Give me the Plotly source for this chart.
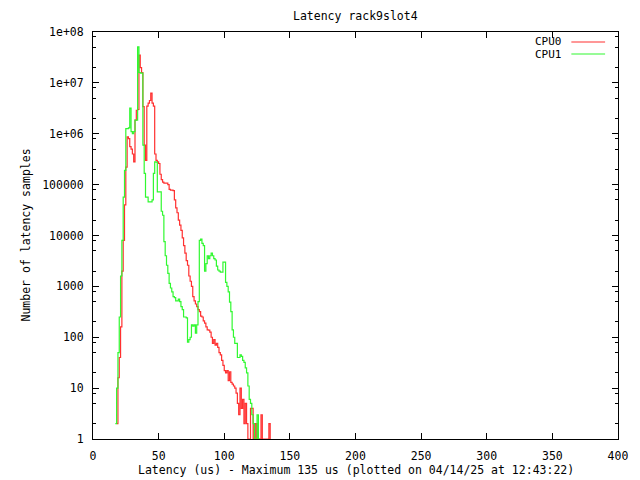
import plotly.graph_objects as go

# ---- data ----
cpu0_start = 18
cpu0_counts = [
    2, 16, 40, 160, 2000, 8000, 40000, 220000, 870000, 800000,          # 18-27
    560000, 500000, 400000, 280000, 1860000, 2900000, 3000000, 35000000, 20000000, 16000000,  # 28-37
    3400000, 600000, 300000, 3500000, 4000000, 4500000, 6300000, 4000000, 3500000, 400000,    # 38-47
    300000, 280000, 260000, 160000, 125000, 112000, 107000, 107000, 107000, 100000,           # 48-57
    81000, 78000, 78000, 76000, 50000, 35000, 28000, 20000, 16000, 12600,                     # 58-67
    9000, 6300, 4500, 3200, 2600, 1600, 1260, 1000, 630, 520,                                 # 68-77
    450, 400, 350, 320, 260, 250, 210, 190, 160, 140,                                         # 78-87
    138, 126, 100, 76, 90, 70, 76, 63, 50, 45,                                                # 88-97
    35, 28, 22, 20, 22, 14, 21, 13, 12, 11,                                                   # 98-107
    10, 8, 5, 3, 10, 4, 6, 2, 5, 2,                                                           # 108-117
    1, 1, 4, 4, 1, 2, 1, 2, 1, 1,                                                             # 118-127
    3, 1, 1, 1, 1, 1, 2, 1,                                                                   # 128-135
]
cpu1_start = 17
cpu1_counts = [
    2, 10, 50, 250, 1600, 8000, 57000, 190000, 1260000, 1260000,      # 17-26
    1300000, 3200000, 1100000, 1000000, 1100000, 1860000, 1860000, 51000000, 16000000, 15500000,  # 27-36
    15500000, 600000, 166000, 57000, 57000, 46000, 46000, 46000, 50000, 166000,                   # 37-46
    280000, 275000, 72000, 72000, 72000, 30000, 25000, 7600, 4000, 2600,                          # 47-56
    1800, 1150, 930, 780, 630, 600, 520, 520, 560, 500,                                           # 57-66
    400, 350, 250, 250, 240, 80, 90, 100, 175, 165,                                               # 67-76
    175, 120, 175, 500, 8000, 8500, 7000, 6300, 2000, 2800,                                       # 77-86
    4000, 3500, 4000, 4500, 4000, 3500, 3300, 2500, 2100, 2000,                                   # 87-96
    1900, 1900, 3000, 3000, 1200, 1000, 780, 490, 320, 140,                                       # 97-106
    100, 76, 76, 40, 40, 45, 42, 35, 32, 25,                                                      # 107-116
    20, 11, 6, 5, 3, 2, 1, 1, 3, 1, 1,                                                            # 117-127
]
cpu0_x = list(range(cpu0_start, cpu0_start + len(cpu0_counts)))
cpu1_x = list(range(cpu1_start, cpu1_start + len(cpu1_counts)))

series_names = ["CPU0", "CPU1"]
series_colors = ["#ff3030", "#30f830"]

x_ticks = [0, 50, 100, 150, 200, 250, 300, 350, 400]
y_ticks = [1, 10, 100, 1000, 10000, 100000, 1e6, 1e7, 1e8]
y_ticktext = ["1", "10", "100", "1000", "10000", "100000", "1e+06", "1e+07", "1e+08"]
y_minor = [m * 10 ** e for e in range(0, 8) for m in (2, 5, 8)]

title_text = "Latency rack9slot4"
xlabel = "Latency (us) - Maximum 135 us (plotted on 04/14/25 at 12:43:22)"
ylabel = "Number of latency samples"

FONT = "DejaVu Sans Mono"
FS = 11.5

fig = go.Figure()
for xs, ys, name, col in [(cpu0_x, cpu0_counts, series_names[0], series_colors[0]),
                          (cpu1_x, cpu1_counts, series_names[1], series_colors[1])]:
    fig.add_trace(go.Scatter(x=xs, y=ys, mode="lines", name=name,
                             line=dict(color=col, width=1.2, shape="hv"),
                             showlegend=False))

W, H = 640, 480
L, R, T, B = 93, 18, 32, 41

fig.update_layout(
    width=W, height=H,
    margin=dict(l=L, r=R, t=T, b=B, pad=0),
    paper_bgcolor="white", plot_bgcolor="white",
    font=dict(family=FONT, size=FS, color="black"),
    xaxis=dict(range=[0, 400], tickmode="array", tickvals=x_ticks,
               ticks="inside", ticklen=6, tickcolor="black", tickwidth=1,
               showline=True, linecolor="black", linewidth=1, mirror="allticks",
               showgrid=False, zeroline=False, ticklabelstandoff=6),
    yaxis=dict(type="log", range=[0, 8], tickmode="array", tickvals=y_ticks,
               ticktext=y_ticktext,
               ticks="inside", ticklen=6, tickcolor="black", tickwidth=1,
               showline=True, linecolor="black", linewidth=1, mirror="allticks",
               showgrid=False, zeroline=False, ticklabelstandoff=6,
               minor=dict(tickmode="array", tickvals=y_minor, ticks="inside",
                          ticklen=3, tickcolor="black", tickwidth=1, showgrid=False)),
)

pw, ph = W - L - R, H - T - B
annotations = [
    dict(text=title_text, xref="paper", yref="paper", x=0.5, y=1, yshift=16,
         xanchor="center", yanchor="middle", showarrow=False),
    dict(text=xlabel, xref="paper", yref="paper", x=0.5, y=0, yshift=-31,
         xanchor="center", yanchor="middle", showarrow=False),
    dict(text=ylabel, xref="paper", yref="paper", x=0, y=0.5, xshift=-68,
         xanchor="center", yanchor="middle", textangle=-90, showarrow=False),
]
shapes = []
for i, (name, col) in enumerate(zip(series_names, series_colors)):
    ypx = 42 + 12 * i
    yp = (H - B - ypx) / ph
    annotations.append(dict(text=name, xref="paper", yref="paper",
                            x=(568 - L) / pw, y=yp, xanchor="right", yanchor="middle",
                            showarrow=False, font=dict(size=11)))
    shapes.append(dict(type="line", xref="paper", yref="paper",
                       x0=(575 - L) / pw, x1=(609 - L) / pw, y0=yp, y1=yp,
                       line=dict(color=col, width=1.2)))
fig.update_layout(annotations=annotations, shapes=shapes)

fig.write_html("out.html")
